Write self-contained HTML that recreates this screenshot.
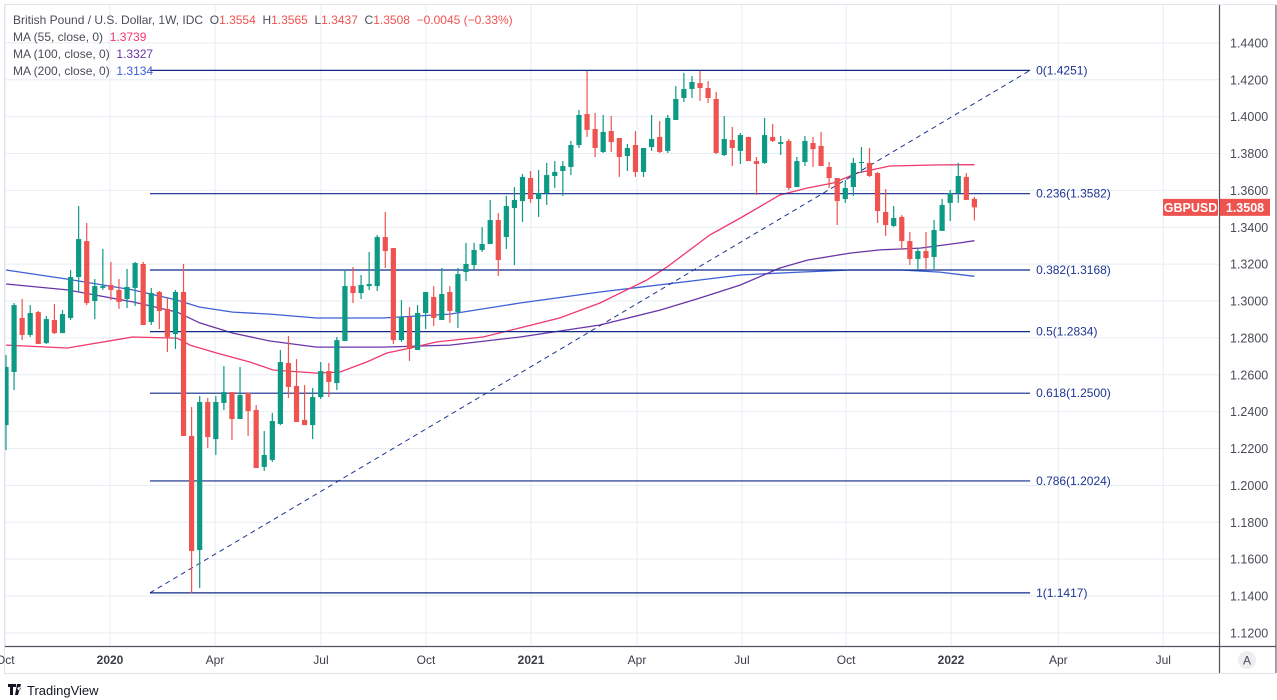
<!DOCTYPE html>
<html><head><meta charset="utf-8"><style>
html,body{margin:0;padding:0;background:#fff;}
svg{display:block;font-family:"Liberation Sans",sans-serif;}
text{white-space:pre;}
</style></head><body>
<svg id="c" width="1277" height="700" viewBox="0 0 1277 700" xmlns="http://www.w3.org/2000/svg"></svg>
<script>
const opens=[1.2327,1.2615,1.2908,1.2816,1.2940,1.2772,1.2897,1.2826,1.2908,1.3130,1.3325,1.3000,1.3071,1.3087,1.3060,1.3011,1.3071,1.3201,1.2886,1.3049,1.2957,1.2821,1.3049,1.2268,1.1649,1.2452,1.2251,1.2447,1.2506,1.2360,1.2501,1.2409,1.2100,1.2138,1.2333,1.2664,1.2539,1.2355,1.2327,1.2479,1.2620,1.2555,1.2783,1.3081,1.3043,1.3081,1.3081,1.3347,1.3287,1.2788,1.2913,1.2734,1.2935,1.3022,1.2897,1.3049,1.2940,1.3157,1.3195,1.3277,1.3309,1.3439,1.3347,1.3504,1.3542,1.3667,1.3553,1.3586,1.3678,1.3705,1.3727,1.3846,1.4014,1.3933,1.3808,1.3922,1.3884,1.3786,1.3846,1.3700,1.3835,1.3890,1.3814,1.3982,1.4101,1.4150,1.4182,1.4155,1.4096,1.3792,1.3873,1.3814,1.3890,1.3759,1.3749,1.3890,1.3852,1.3868,1.3618,1.3754,1.3857,1.3841,1.3727,1.3667,1.3553,1.3618,1.3749,1.3749,1.3694,1.3483,1.3407,1.3456,1.3325,1.3228,1.3271,1.3239,1.3380,1.3532,1.3586,1.3673,1.3554];
const highs=[1.2707,1.2989,1.3011,1.2978,1.2946,1.2919,1.2984,1.2951,1.3168,1.3515,1.3423,1.3119,1.3282,1.3212,1.3119,1.3174,1.3212,1.3212,1.3071,1.3054,1.3016,1.3060,1.3201,1.2425,1.2485,1.2474,1.2485,1.2647,1.2506,1.2642,1.2501,1.2436,1.2295,1.2393,1.2734,1.2810,1.2685,1.2544,1.2528,1.2669,1.2664,1.2805,1.3168,1.3184,1.3141,1.3266,1.3358,1.3483,1.3287,1.3005,1.2967,1.2978,1.3049,1.3081,1.3179,1.3081,1.3179,1.3315,1.3315,1.3401,1.3548,1.3477,1.3570,1.3618,1.3689,1.3705,1.3711,1.3749,1.3759,1.3759,1.3868,1.4036,1.4248,1.4020,1.4009,1.4003,1.3884,1.3852,1.3922,1.3830,1.4009,1.3976,1.4009,1.4166,1.4237,1.4220,1.4248,1.4193,1.4134,1.4003,1.3944,1.3911,1.3890,1.3781,1.3993,1.3960,1.3895,1.3879,1.3781,1.3895,1.3890,1.3917,1.3754,1.3667,1.3656,1.3776,1.3835,1.3830,1.3700,1.3607,1.3515,1.3466,1.3374,1.3287,1.3374,1.3439,1.3553,1.3602,1.3749,1.3694,1.3565];
const lows=[1.2192,1.2517,1.2788,1.2805,1.2767,1.2767,1.2821,1.2826,1.2897,1.3049,1.2978,1.2902,1.3060,1.3005,1.2957,1.2962,1.2973,1.2870,1.2870,1.2848,1.2723,1.2740,1.2268,1.1416,1.1443,1.2203,1.2165,1.2409,1.2246,1.2360,1.2268,1.2094,1.2078,1.2127,1.2327,1.2474,1.2344,1.2327,1.2251,1.2468,1.2479,1.2517,1.2783,1.2989,1.3011,1.3060,1.3054,1.3179,1.2767,1.2778,1.2675,1.2734,1.2848,1.2864,1.2897,1.2881,1.2854,1.3108,1.3168,1.3266,1.3309,1.3136,1.3282,1.3195,1.3428,1.3532,1.3456,1.3521,1.3613,1.3570,1.3683,1.3830,1.3890,1.3781,1.3803,1.3808,1.3673,1.3705,1.3673,1.3673,1.3814,1.3803,1.3803,1.3982,1.4079,1.4101,1.4085,1.4074,1.3797,1.3786,1.3732,1.3743,1.3759,1.3575,1.3743,1.3862,1.3792,1.3602,1.3618,1.3732,1.3727,1.3732,1.3613,1.3412,1.3532,1.3570,1.3694,1.3673,1.3423,1.3353,1.3401,1.3277,1.3195,1.3168,1.3174,1.3174,1.3380,1.3434,1.3532,1.3548,1.3437];
const closes=[1.2642,1.2978,1.2816,1.2935,1.2767,1.2902,1.2826,1.2929,1.3130,1.3336,1.2989,1.3081,1.3081,1.3060,1.2995,1.3076,1.3206,1.2870,1.3043,1.2946,1.2805,1.3049,1.2268,1.1644,1.2452,1.2262,1.2452,1.2506,1.2360,1.2490,1.2403,1.2094,1.2165,1.2349,1.2669,1.2534,1.2344,1.2327,1.2479,1.2620,1.2561,1.2788,1.3081,1.3043,1.3087,1.3092,1.3347,1.3271,1.2788,1.2913,1.2740,1.2935,1.3049,1.2908,1.3038,1.2946,1.3146,1.3201,1.3277,1.3309,1.3439,1.3222,1.3515,1.3548,1.3673,1.3553,1.3586,1.3683,1.3700,1.3732,1.3846,1.4009,1.3928,1.3830,1.3917,1.3862,1.3781,1.3830,1.3700,1.3830,1.3879,1.3808,1.3993,1.4096,1.4150,1.4188,1.4155,1.4101,1.3803,1.3879,1.3830,1.3900,1.3759,1.3743,1.3900,1.3868,1.3862,1.3613,1.3759,1.3868,1.3824,1.3732,1.3667,1.3542,1.3613,1.3749,1.3754,1.3678,1.3488,1.3412,1.3450,1.3325,1.3228,1.3271,1.3233,1.3385,1.3521,1.3586,1.3678,1.3548,1.3508];
const ma55Idx=[0,7.6,15.7,21.2,22.8,26.1,30.2,33.1,38.5,41.4,44.7,47.2,50.1,53.4,59.1,63.7,68.6,73.6,79.4,81.9,87.2,91,95.9,99.3,102.5,105.5,109.5,115.7,120];
const ma55Val=[1.2761,1.2745,1.2805,1.2799,1.2761,1.2718,1.2669,1.2626,1.2609,1.2615,1.2669,1.2718,1.2745,1.2778,1.2805,1.2854,1.2908,1.2989,1.3114,1.3184,1.3358,1.3450,1.3575,1.3613,1.3640,1.3694,1.3732,1.3738,1.3739];
const ma100Idx=[0,7.6,15.7,21.2,24,28.1,32.7,38.5,46.7,55,63.7,73.6,81.1,86,91,95.9,99.3,104.6,108.3,113.3,118.2,120];
const ma100Val=[1.3092,1.3060,1.2995,1.2940,1.2881,1.2826,1.2783,1.2750,1.2750,1.2761,1.2805,1.2870,1.2951,1.3016,1.3087,1.3179,1.3222,1.3260,1.3277,1.3287,1.3315,1.3327];
const ma200Idx=[0,7.6,15.7,21.2,24,28.1,32.7,38.5,46.7,55,63.7,73.6,86,91,98.4,104.6,110.8,115.7,120];
const ma200Val=[1.3168,1.3119,1.3060,1.3005,1.2967,1.2940,1.2929,1.2908,1.2908,1.2929,1.2989,1.3049,1.3114,1.3141,1.3157,1.3168,1.3168,1.3157,1.3134];
const fibRatios=["0","0.236","0.382","0.5","0.618","0.786","1"];
const fibLevels=[1.4251,1.3582,1.3168,1.2834,1.2500,1.2024,1.1417];
const fibStartIdx=17.84, fibEndIdx=126.9;
const priceTicks=[1.44,1.42,1.40,1.38,1.36,1.34,1.32,1.30,1.28,1.26,1.24,1.22,1.20,1.18,1.16,1.14,1.12];
const timeTickIdx=[-0.1,12.89,25.9,39.03,52.04,65.06,78.19,91.2,104.1,117.1,130.4,143.4];
const timeTickLabels=["Oct","2020","Apr","Jul","Oct","2021","Apr","Jul","Oct","2022","Apr","Jul"];

const NS="http://www.w3.org/2000/svg";
const svg=document.getElementById('c');
const X=i=>6+8.07*i;
const Y=p=>301-(p-1.3)*1843.75;
function el(tag,attrs,parent){const e=document.createElementNS(NS,tag);for(const k in attrs)e.setAttribute(k,attrs[k]);(parent||svg).appendChild(e);return e;}

const defs=el('defs',{});
const cp=el('clipPath',{id:'plotclip'},defs);
el('rect',{x:5,y:5,width:1214,height:641},cp);

const grid=el('g',{});


priceTicks.forEach(p=>{const l=el('line',{x1:5,x2:1219,y1:Y(p),y2:Y(p),stroke:'#e6edf3','stroke-width':1},grid);

});
timeTickIdx.forEach(t=>{const l=el('line',{x1:X(t),x2:X(t),y1:5,y2:646,stroke:'#e6edf3','stroke-width':1},grid);

});

const plot=el('g',{'clip-path':'url(#plotclip)'});



function maLine(idx,val,color,name){
  const pts=idx.map((i,k)=>X(i).toFixed(1)+','+Y(val[k]).toFixed(1)).join(' ');
  const pl=el('polyline',{points:pts,fill:'none',stroke:color,'stroke-width':1.3},plot);
  
  
}
maLine(ma200Idx,ma200Val,'#3f5fd6','ma-200-line');
maLine(ma100Idx,ma100Val,'#6a35a8','ma-100-line');
maLine(ma55Idx,ma55Val,'#f0386b','ma-55-line');

const fibG=el('g',{},plot);


const diag=el('line',{x1:X(fibStartIdx),y1:Y(fibLevels[6]),x2:X(fibEndIdx),y2:Y(fibLevels[0]),stroke:'#1d3594','stroke-width':1,'stroke-dasharray':'5,4'},fibG);


fibLevels.forEach((lv,k)=>{
  const l=el('line',{x1:X(fibStartIdx),x2:X(fibEndIdx),y1:Y(lv),y2:Y(lv),stroke:'#0f2a88','stroke-width':1.2},fibG);
  
  
  const t=el('text',{x:X(fibEndIdx)+6,y:Y(lv)+4,'font-size':12,fill:'#1d3594'},fibG);
  t.textContent=fibRatios[k]+'('+lv.toFixed(4)+')';
  
  
});

const cg=el('g',{},plot);


opens.forEach((o,i)=>{
  const c=closes[i],up=c>=o,col=up?'#0c9a84':'#ef5350';
  const x=X(i);
  const g=el('g',{},cg);
  
  
  el('line',{x1:x,x2:x,y1:Y(highs[i]),y2:Y(lows[i]),stroke:col,'stroke-width':1.2},g);
  const top=Y(Math.max(o,c)),bot=Y(Math.min(o,c));
  el('rect',{x:x-2.6,y:top,width:5.2,height:Math.max(1,bot-top),fill:col},g);
});

el('rect',{x:4.5,y:4.5,width:1271,height:669,fill:'none',stroke:'#e0e3eb'});
const ax=el('line',{x1:1219.5,x2:1219.5,y1:5,y2:673,stroke:'#50535e','stroke-width':1.2});


el('line',{x1:5,x2:1276,y1:646.5,y2:646.5,stroke:'#50535e','stroke-width':1.2});
el('line',{x1:1276,x2:1276,y1:5,y2:673,stroke:'#50535e','stroke-width':1});

const pa=el('g',{});


priceTicks.forEach(p=>{const t=el('text',{x:1230,y:Y(p)+4.5,'font-size':12.5,fill:'#4a4d57'},pa);t.textContent=p.toFixed(4);

});
const ly=Y(closes[closes.length-1]);
const tag1=el('rect',{x:1163,y:ly-8.5,width:55,height:17,fill:'#ef5350',rx:1});


const tt1=el('text',{x:1190.5,y:ly+4.5,'font-size':12.5,'font-weight':'bold',fill:'#fff','text-anchor':'middle'});tt1.textContent='GBPUSD';


const tag2=el('rect',{x:1220,y:ly-8.5,width:50,height:17,fill:'#ef5350'});


const tt2=el('text',{x:1245,y:ly+4.5,'font-size':12.5,'font-weight':'bold',fill:'#fff','text-anchor':'middle'});tt2.textContent=closes[closes.length-1].toFixed(4);



const ta=el('g',{});


timeTickIdx.forEach((t,k)=>{const e=el('text',{x:X(t),y:664,'font-size':12,fill:'#3a3d47','text-anchor':'middle','font-weight':/^\d/.test(timeTickLabels[k])?'bold':'normal'},ta);e.textContent=timeTickLabels[k];

});
const ab=el('circle',{cx:1247,cy:660,r:9,fill:'#eceef2'});


const at=el('text',{x:1247,y:664.5,'font-size':12,fill:'#4a4d57','text-anchor':'middle'});at.textContent='A';



function line(y,parts,name){const t=el('text',{x:13,y:y,'font-size':12,fill:'#4a4d57'});


parts.forEach(p=>{const s=el('tspan',{fill:p[1]},t);s.textContent=p[0];});}
line(24,[['British Pound / U.S. Dollar, 1W, IDC  O','#4a4d57'],['1.3554','#ef5350'],['  H','#4a4d57'],['1.3565','#ef5350'],['  L','#4a4d57'],['1.3437','#ef5350'],['  C','#4a4d57'],['1.3508','#ef5350'],['  −0.0045 (−0.33%)','#ef5350']],'ohlc-legend');
line(41,[['MA (55, close, 0)  ','#4a4d57'],['1.3739','#f0386b']],'ma-55-legend');
line(58,[['MA (100, close, 0)  ','#4a4d57'],['1.3327','#6a35a8']],'ma-100-legend');
line(75,[['MA (200, close, 0)  ','#4a4d57'],['1.3134','#3f5fd6']],'ma-200-legend');

const lg=el('g',{});


el('path',{d:'M8 684h8v3h-3v8h-3v-8h-2z M17 684h4l-3 11h-3z M19 687a1.6 1.6 0 1 0 0.01 0z',fill:'#131722'},lg);
const lt=el('text',{x:27,y:695,'font-size':13,fill:'#131722'},lg);lt.textContent='TradingView';
</script>
</body></html>
